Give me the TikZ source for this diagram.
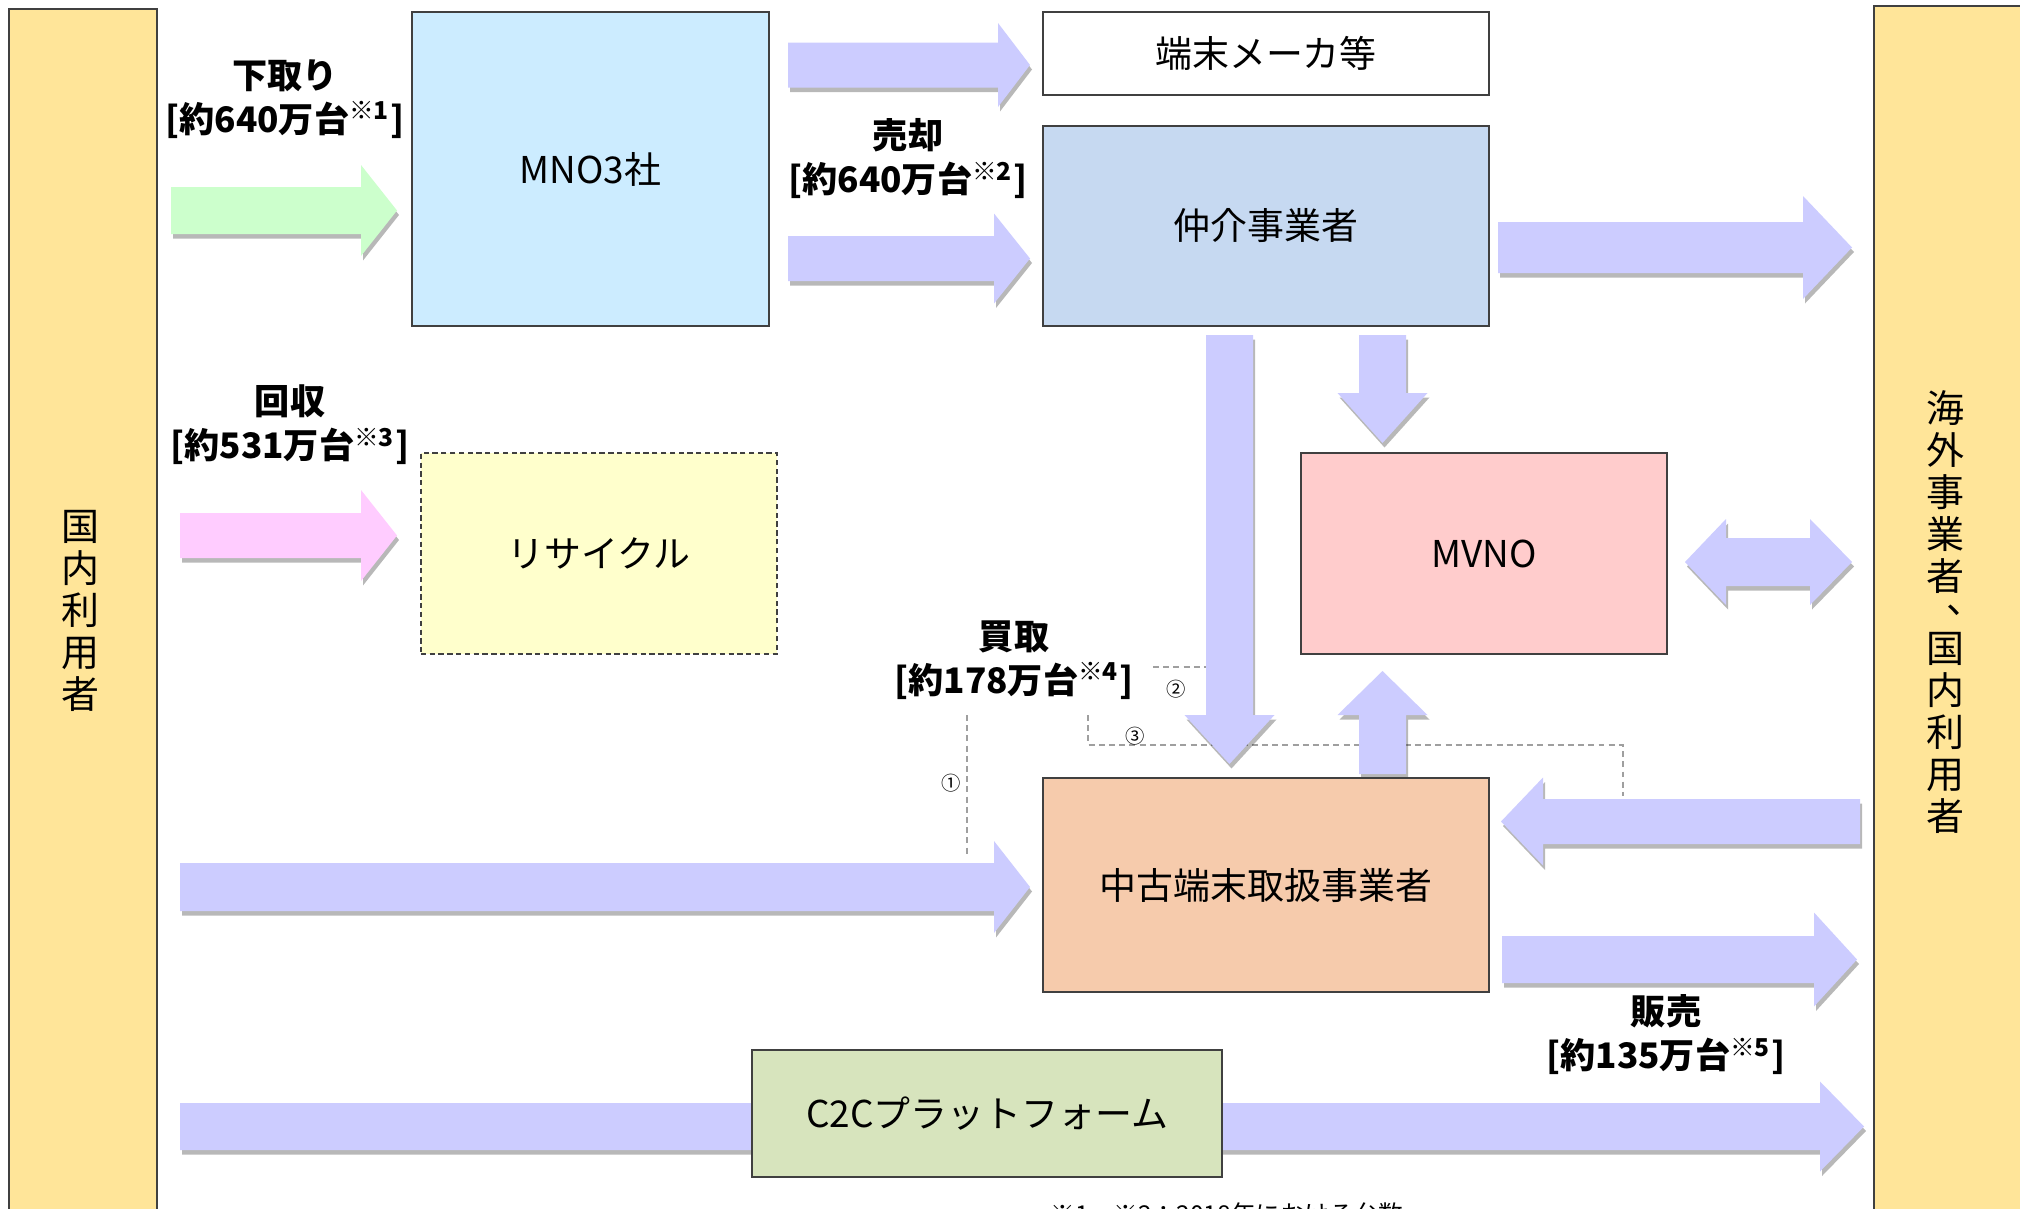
\documentclass[tikz,border=0pt]{standalone}
\usepackage{fontspec}
\setmainfont{Noto Sans CJK JP}
\usetikzlibrary{shadows}
\definecolor{barfill}{HTML}{FFE599}
\definecolor{mnofill}{HTML}{CCECFF}
\definecolor{brokerfill}{HTML}{C6D9F1}
\definecolor{mvnofill}{HTML}{FFCCCC}
\definecolor{recyclefill}{HTML}{FFFFCC}
\definecolor{usedfill}{HTML}{F6CBAC}
\definecolor{ctcfill}{HTML}{D7E4BD}
\definecolor{arrowblue}{HTML}{CCCCFF}
\definecolor{arrowgreen}{HTML}{CCFFCC}
\definecolor{arrowpink}{HTML}{FFCCFF}
\definecolor{edgegray}{HTML}{404040}
\tikzset{
  bar/.style={draw=edgegray, line width=0.6pt, fill=barfill, inner sep=0pt},
  box/.style={draw=edgegray, line width=0.6pt, inner sep=0pt, font=\fontsize{10.5pt}{12pt}\selectfont},
  flowlabel/.style={align=center, inner sep=0pt, font=\fontsize{10pt}{12.5pt}\selectfont\bfseries},
  vlabel/.style={align=center, inner sep=0pt, font=\fontsize{10.8pt}{11.95pt}\selectfont},
  dashline/.style={draw=gray!75, line width=0.5pt, dash pattern=on 1.7pt off 1.2pt},
  circnum/.style={inner sep=0pt, font=\fontsize{5.5pt}{6pt}\selectfont},
  barrowstyle/.style={fill=arrowblue, drop shadow={shadow xshift=0.02cm, shadow yshift=-0.045cm, opacity=0.28, fill=black}}
}
% horizontal block arrow: [style] tail-x, tip-x, headbase-x, center-y, half shaft, half head
\newcommand{\hblockarrow}[7][]{\fill[barrowstyle,#1] (#2,#5-#6) -- (#4,#5-#6) -- (#4,#5-#7) -- (#3,#5) -- (#4,#5+#7) -- (#4,#5+#6) -- (#2,#5+#6) -- cycle;}
% vertical block arrow: [style] center-x, tail-y, tip-y, headbase-y, half shaft, half head
\newcommand{\vblockarrow}[7][]{\fill[barrowstyle,#1] (#2-#6,#3) -- (#2-#6,#5) -- (#2-#7,#5) -- (#2,#4) -- (#2+#7,#5) -- (#2+#6,#5) -- (#2+#6,#3) -- cycle;}
\begin{document}
\begin{tikzpicture}[x=0.01cm, y=-0.01cm]
\clip (0,0) rectangle (2020,1209);
\fill[white] (0,0) rectangle (2020,1209);

% side bars
\node[bar, minimum width=1.48cm, minimum height=12.6cm] (leftbar) at (83,639) {};
\node[bar, minimum width=1.9cm, minimum height=12.6cm] (rightbar) at (1969,636) {};
\node[vlabel] (leftlabel) at (80,611) {国\\内\\利\\用\\者};
\node[vlabel] (rightlabel) at (1945,612) {海\\外\\事\\業\\者\\\makebox[1em]{\hspace{1.1em}\raisebox{0.5em}{、}}\\[-0.3em]国\\内\\利\\用\\者};

% dashed connectors
\coordinate (d1top) at (967,715);
\coordinate (d1bot) at (967,857);
\draw[dashline] (d1top) -- (d1bot);
\node[circnum] (c1) at (951,783) {①};
\coordinate (d2a) at (1153,667);
\coordinate (d2b) at (1206,667);
\draw[dashline] (d2a) -- (d2b);
\node[circnum] (c2) at (1176,689) {②};
\coordinate (d3a) at (1088,715);
\coordinate (d3b) at (1623,745);
\coordinate (d3c) at (1623,796);
\draw[dashline] (d3a) |- (d3b) -- (d3c);
\node[circnum] (c3) at (1135,736) {③};

% block arrows
\hblockarrow[fill=arrowgreen]{171}{397}{361}{210.5}{23.5}{45.5}
\hblockarrow[fill=arrowpink]{180}{397}{361}{535.5}{22.5}{45.5}
\hblockarrow{788}{1030}{998}{65}{22.5}{42}
\hblockarrow{788}{1030}{994}{258.5}{22.5}{45}
\hblockarrow{1498}{1852}{1803}{247.5}{25.5}{51.5}
\vblockarrow{1382.5}{335}{443}{393}{23.5}{45}
\vblockarrow{1229.5}{335}{764}{715}{23.5}{45}
\vblockarrow{1382.5}{774}{671}{715}{23.5}{45}
\fill[barrowstyle] (1685,562) -- (1726,519) -- (1726,538) -- (1810,538) -- (1810,519) -- (1852,562) -- (1810,605) -- (1810,586) -- (1726,586) -- (1726,605) -- cycle;
\hblockarrow{1860}{1501}{1543}{821.5}{22.5}{44}
\hblockarrow{1502}{1857}{1814}{959.5}{23.5}{47}
\hblockarrow{180}{1030}{994}{887}{24}{46}
\hblockarrow{180}{1864}{1820}{1126.5}{23.5}{45}

% boxes
\node[box, fill=mnofill, minimum width=3.57cm, minimum height=3.14cm] (mno) at (590.5,169) {MNO3社};
\node[box, fill=white, minimum width=4.46cm, minimum height=0.83cm] (maker) at (1266,53.5) {端末メーカ等};
\node[box, fill=brokerfill, minimum width=4.46cm, minimum height=2.00cm] (broker) at (1266,226) {仲介事業者};
\node[box, fill=mvnofill, minimum width=3.66cm, minimum height=2.01cm] (mvno) at (1484,553.5) {MVNO};
\node[box, fill=recyclefill, dash pattern=on 1.5pt off 1pt, minimum width=3.56cm, minimum height=2.01cm] (recycle) at (599,553.5) {リサイクル};
\node[box, fill=usedfill, minimum width=4.46cm, minimum height=2.14cm] (used) at (1266,885) {中古端末取扱事業者};
\node[box, fill=ctcfill, minimum width=4.70cm, minimum height=1.27cm] (ctc) at (987,1113.5) {C2Cプラットフォーム};

% flow labels
\node[flowlabel] (lab1) at (285,99) {下取り\\{[}約640万台\textsuperscript{※1}{]}};
\node[flowlabel] (lab2) at (908,159) {売却\\{[}約640万台\textsuperscript{※2}{]}};
\node[flowlabel] (lab3) at (290,425) {回収\\{[}約531万台\textsuperscript{※3}{]}};
\node[flowlabel] (lab4) at (1014,660) {買取\\{[}約178万台\textsuperscript{※4}{]}};
\node[flowlabel] (lab5) at (1666,1035) {販売\\{[}約135万台\textsuperscript{※5}{]}};

% footnote (cut by the lower edge)
\node[inner sep=0pt, font=\fontsize{7pt}{8pt}\selectfont] (note) at (1227,1214) {※1、※2：2018年における台数};
\end{tikzpicture}
\end{document}
